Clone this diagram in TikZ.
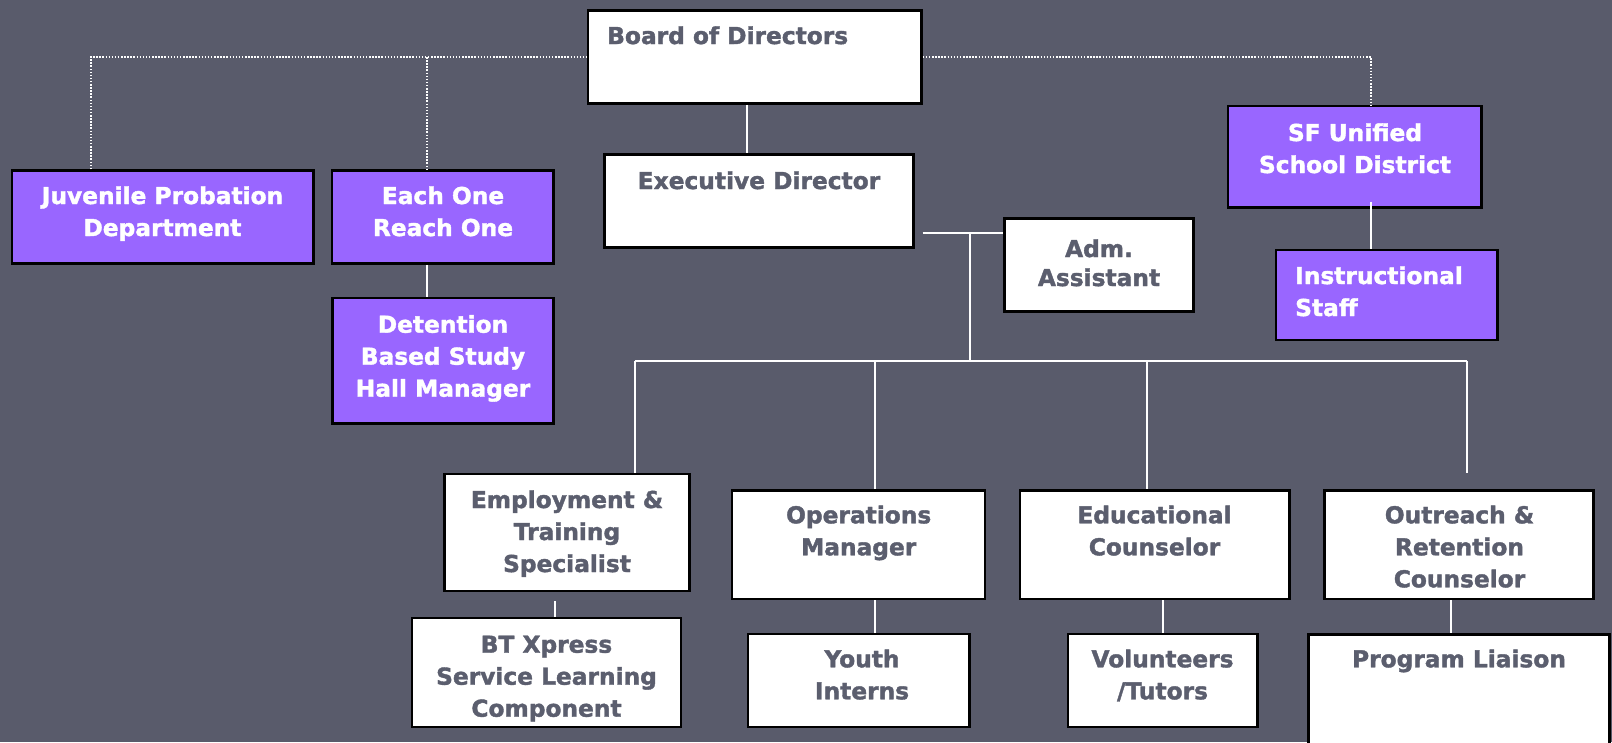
\documentclass[tikz,border=0pt]{standalone}
\usepackage{fontspec}
\setmainfont[BoldFeatures={FakeBold=1.6}]{DejaVu Sans}
\usetikzlibrary{calc}
\definecolor{bg}{HTML}{595B6B}
\definecolor{txtgray}{HTML}{5B5E6E}
\definecolor{purp}{HTML}{9966FF}
\begin{document}
\begin{tikzpicture}[x=1pt,y=-1pt,
  wbox/.style={draw=black, fill=white, line width=2.5pt, inner sep=0pt, rectangle},
  pbox/.style={draw=black, fill=purp, line width=2.5pt, inner sep=0pt, rectangle},
  wtxt/.style={font=\fontsize{23.3}{32}\selectfont\bfseries, text=txtgray, inner sep=0pt, anchor=base},
  ptxt/.style={font=\fontsize{23.3}{32}\selectfont\bfseries, text=white, inner sep=0pt, anchor=base},
  conn/.style={draw=white, line width=2pt},
  dotconn/.style={draw=white, line width=2pt, dash pattern=on 1.5pt off 1.6pt}]
\useasboundingbox (0,0) rectangle (1612,742);
\clip (0,0) rectangle (1612,742);
\fill[bg] (0,0) rectangle (1612,742);

% boxes
\node[wbox, minimum width=333.5pt, minimum height=93pt] (board) at (754.75,57) {};
\node[wbox, minimum width=309pt, minimum height=93pt] (exec) at (759,201) {};
\node[wbox, minimum width=189pt, minimum height=93pt] (adm) at (1099,265) {};
\node[pbox, minimum width=301.3pt, minimum height=93pt] (juv) at (162.85,217) {};
\node[pbox, minimum width=221.3pt, minimum height=93pt] (each) at (442.85,217) {};
\node[pbox, minimum width=221pt, minimum height=125.3pt] (det) at (443,360.85) {};
\node[pbox, minimum width=253.3pt, minimum height=101.3pt] (sf) at (1354.85,156.85) {};
\node[pbox, minimum width=221.3pt, minimum height=90pt] (instr) at (1386.85,295.2) {};
\node[wbox, minimum width=245pt, minimum height=117pt] (emp) at (566.9,532.7) {};
\node[wbox, minimum width=253pt, minimum height=108.7pt] (ops) at (858.7,544.85) {};
\node[wbox, minimum width=269.1pt, minimum height=108.7pt] (edu) at (1154.75,544.85) {};
\node[wbox, minimum width=269.4pt, minimum height=108.7pt] (out) at (1459,544.85) {};
\node[wbox, minimum width=268.7pt, minimum height=108.6pt] (bt) at (546.55,672.5) {};
\node[wbox, minimum width=221.3pt, minimum height=92.6pt] (youth) at (858.85,680.5) {};
\node[wbox, minimum width=189.1pt, minimum height=92.6pt] (vol) at (1162.75,680.5) {};
\node[wbox, minimum width=300.6pt, minimum height=154pt] (prog) at (1459,711.35) {};

% texts
\node[wtxt, anchor=base west] (tboard) at (607,44) {Board of Directors};
\node[wtxt] (texec) at (759,189) {Executive Director};
\node[wtxt] (tadm) at (1099,257) {\begin{tabular}[t]{@{}c@{}}Adm.\\[-3pt]Assistant\end{tabular}};
\node[ptxt] (tjuv) at (162.5,204) {\begin{tabular}[t]{@{}c@{}}Juvenile Probation\\Department\end{tabular}};
\node[ptxt] (teach) at (443,204) {\begin{tabular}[t]{@{}c@{}}Each One\\Reach One\end{tabular}};
\node[ptxt] (tdet) at (443,332.7) {\begin{tabular}[t]{@{}c@{}}Detention\\Based Study\\Hall Manager\end{tabular}};
\node[ptxt] (tsf) at (1355,141) {\begin{tabular}[t]{@{}c@{}}SF Unified\\School District\end{tabular}};
\node[ptxt, anchor=base west] (tinstr) at (1295,284) {\begin{tabular}[t]{@{}l@{}}Instructional\\Staff\end{tabular}};
\node[wtxt] (temp) at (567,508) {\begin{tabular}[t]{@{}c@{}}Employment \&\\Training\\Specialist\end{tabular}};
\node[wtxt] (tops) at (858.7,523.3) {\begin{tabular}[t]{@{}c@{}}Operations\\Manager\end{tabular}};
\node[wtxt] (tedu) at (1154.5,523.3) {\begin{tabular}[t]{@{}c@{}}Educational\\Counselor\end{tabular}};
\node[wtxt] (tout) at (1459.5,523.3) {\begin{tabular}[t]{@{}c@{}}Outreach \&\\Retention\\Counselor\end{tabular}};
\node[wtxt] (tbt) at (546.5,652.7) {\begin{tabular}[t]{@{}c@{}}BT Xpress\\Service Learning\\Component\end{tabular}};
\node[wtxt] (tyouth) at (862,667.3) {\begin{tabular}[t]{@{}c@{}}Youth\\Interns\end{tabular}};
\node[wtxt] (tvol) at (1162.5,667.3) {\begin{tabular}[t]{@{}c@{}}Volunteers\\/Tutors\end{tabular}};
\node[wtxt] (tprog) at (1459,667.3) {Program Liaison};

% coordinates
\coordinate (d1) at (90.7,57);
\coordinate (d2) at (426.7,57);
\coordinate (d3) at (1371,57);
\coordinate (bx) at (747,0);
\coordinate (exr) at (922.5,233);
\coordinate (j1) at (970,233);
\coordinate (busL) at (635,360.7);
\coordinate (busR) at (1467.2,360.7);
\coordinate (opsx) at (875.3,360.7);
\coordinate (edux) at (1146.8,360.7);
\coordinate (outtop) at (1467.2,472.7);
\coordinate (ebt) at (555,601);
\coordinate (evx) at (1162.8,0);
\coordinate (opx) at (1450.8,0);
\coordinate (sfx) at (1371,201.7);

% dotted links
\draw[dotconn] (d1 |- juv.north) -- (d1) -- (board.west |- d1);
\draw[dotconn] (d2) -- (d2 |- each.north);
\draw[dotconn] (board.east |- d3) -- (d3) -- (d3 |- sf.north);

% solid links
\draw[conn] (bx |- board.south) -- (bx |- exec.north);
\draw[conn] (exr) -- (adm.west |- exr);
\draw[conn] (j1) -- (j1 |- busL);
\draw[conn] (busL) -- (busR);
\draw[conn] (busL) -- (busL |- emp.north);
\draw[conn] (opsx) -- (opsx |- ops.north);
\draw[conn] (edux) -- (edux |- edu.north);
\draw[conn] (busR) -- (outtop);
\draw[conn] (ebt) -- (ebt |- bt.north);
\draw[conn] (opsx |- ops.south) -- (opsx |- youth.north);
\draw[conn] (evx |- edu.south) -- (evx |- vol.north);
\draw[conn] (opx |- out.south) -- (opx |- prog.north);
\draw[conn] (d2 |- each.south) -- (d2 |- det.north);
\draw[conn] (sfx) -- (sfx |- instr.north);
\end{tikzpicture}
\end{document}
